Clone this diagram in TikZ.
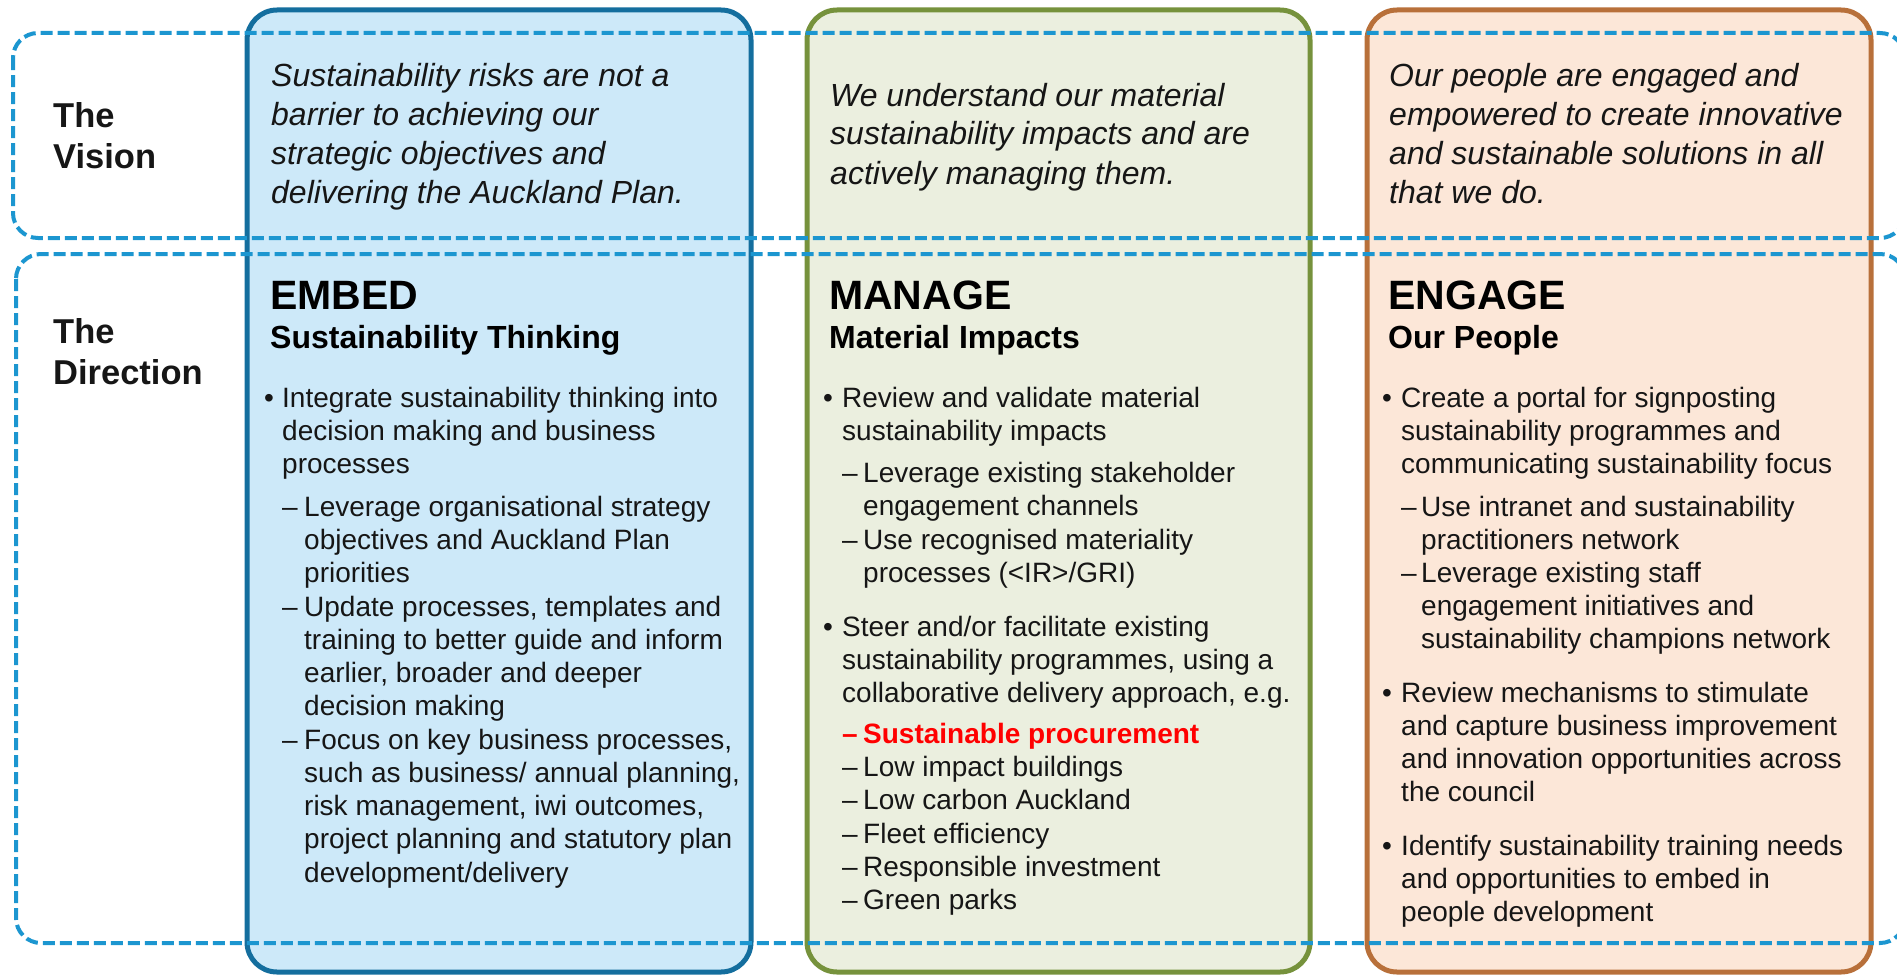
\documentclass[tikz,border=0pt]{standalone}
\usepackage{fontspec}
\setmainfont{Liberation Sans}
\definecolor{bfill}{RGB}{205,233,249}
\definecolor{bborder}{RGB}{20,110,158}
\definecolor{gfill}{RGB}{235,239,223}
\definecolor{gborder}{RGB}{118,146,60}
\definecolor{ofill}{RGB}{252,231,216}
\definecolor{oborder}{RGB}{184,112,58}
\definecolor{dashblue}{RGB}{28,150,208}
\definecolor{txt}{RGB}{22,22,22}
\definecolor{redtxt}{RGB}{255,0,0}
\newcommand{\lns}[1]{\begin{tabular}[t]{@{}l@{}}#1\end{tabular}}
\tikzset{
  colbox/.style={rounded corners=30pt, line width=5pt},
  dashbox/.style={draw=dashblue, line width=4pt, dash pattern=on 12pt off 5pt, rounded corners=25pt},
  body/.style={anchor=base west, inner sep=0pt, text=txt, font=\fontsize{28}{33.3}\selectfont},
  redbody/.style={body, text=redtxt, font=\fontsize{28}{33.3}\selectfont\bfseries},
  vis/.style={anchor=base west, inner sep=0pt, text=txt, font=\fontsize{32}{39}\selectfont\itshape},
  lab/.style={anchor=base west, inner sep=0pt, text=txt, font=\fontsize{34.5}{41}\selectfont\bfseries},
  headbig/.style={anchor=base west, inner sep=0pt, text=black, font=\fontsize{41}{48}\selectfont\bfseries},
  headsub/.style={anchor=base west, inner sep=0pt, text=black, font=\fontsize{32}{38}\selectfont\bfseries}
}
\begin{document}
\begin{tikzpicture}[x=1pt,y=-1pt]
\useasboundingbox (0,0) rectangle (1897,974);
\clip (0,0) rectangle (1897,974);
% column boxes
\draw[colbox, draw=bborder, fill=bfill] (247,10) rectangle (751,972);
\draw[colbox, draw=gborder, fill=gfill] (807,10) rectangle (1310,972);
\draw[colbox, draw=oborder, fill=ofill] (1367,10) rectangle (1871,972);
% dashed row frames
\draw[dashbox] (13,33) rectangle (1905,238);
\draw[dashbox] (16,254) rectangle (1905,943);
% row labels
\node[lab] (visionlab) at (53,127) {\lns{The\\Vision}};
\node[lab] (dirlab) at (53,343) {\lns{The\\Direction}};
% vision texts
\node[vis] (v1) at (271,86) {\lns{Sustainability risks are not a\\barrier to achieving our\\strategic objectives and\\delivering the Auckland Plan.}};
\node[vis] (v2) at (830,106) {\lns{We understand our material\\sustainability impacts and are\\actively managing them.}};
\node[vis] (v3) at (1389,86) {\lns{Our people are engaged and\\empowered to create innovative\\and sustainable solutions in all\\that we do.}};
% headings
\node[headbig] (h1) at (270,309) {EMBED};
\node[headsub] (s1) at (270,348) {Sustainability Thinking};
\node[headbig] (h2) at (829,309) {MANAGE};
\node[headsub] (s2) at (829,348) {Material Impacts};
\node[headbig] (h3) at (1388,309) {ENGAGE};
\node[headsub] (s3) at (1388,348) {Our People};
% column 1 body
\node[body] (c1b1m) at (264,407) {•};
\node[body] (c1b1) at (282,407) {\lns{Integrate sustainability thinking into\\decision making and business\\processes}};
\node[body] (c1d1m) at (282,516) {–};
\node[body] (c1d1) at (304,516) {\lns{Leverage organisational strategy\\objectives and Auckland Plan\\priorities}};
\node[body] (c1d2m) at (282,616) {–};
\node[body] (c1d2) at (304,616) {\lns{Update processes, templates and\\training to better guide and inform\\earlier, broader and deeper\\decision making}};
\node[body] (c1d3m) at (282,749) {–};
\node[body] (c1d3) at (304,749) {\lns{Focus on key business processes,\\such as business/ annual planning,\\risk management, iwi outcomes,\\project planning and statutory plan\\development/delivery}};
% column 2 body
\node[body] (c2b1m) at (823,407) {•};
\node[body] (c2b1) at (842,407) {\lns{Review and validate material\\sustainability impacts}};
\node[body] (c2d1m) at (842,482) {–};
\node[body] (c2d1) at (863,482) {\lns{Leverage existing stakeholder\\engagement channels}};
\node[body] (c2d2m) at (842,549) {–};
\node[body] (c2d2) at (863,549) {\lns{Use recognised materiality\\processes (<IR>/GRI)}};
\node[body] (c2b2m) at (823,636) {•};
\node[body] (c2b2) at (842,636) {\lns{Steer and/or facilitate existing\\sustainability programmes, using a\\collaborative delivery approach, e.g.}};
\node[redbody] (c2d3m) at (842,743) {–};
\node[redbody] (c2d3) at (863,743) {Sustainable procurement};
\node[body] (c2d4m) at (842,776.3) {–};
\node[body] (c2d4) at (863,776.3) {Low impact buildings};
\node[body] (c2d5m) at (842,809.6) {–};
\node[body] (c2d5) at (863,809.6) {Low carbon Auckland};
\node[body] (c2d6m) at (842,843) {–};
\node[body] (c2d6) at (863,843) {Fleet efficiency};
\node[body] (c2d7m) at (842,876.2) {–};
\node[body] (c2d7) at (863,876.2) {Responsible investment};
\node[body] (c2d8m) at (842,909.5) {–};
\node[body] (c2d8) at (863,909.5) {Green parks};
% column 3 body
\node[body] (c3b1m) at (1382,407) {•};
\node[body] (c3b1) at (1401,407) {\lns{Create a portal for signposting\\sustainability programmes and\\communicating sustainability focus}};
\node[body] (c3d1m) at (1401,516) {–};
\node[body] (c3d1) at (1421,516) {\lns{Use intranet and sustainability\\practitioners network}};
\node[body] (c3d2m) at (1401,582) {–};
\node[body] (c3d2) at (1421,582) {\lns{Leverage existing staff\\engagement initiatives and\\sustainability champions network}};
\node[body] (c3b2m) at (1382,702) {•};
\node[body] (c3b2) at (1401,702) {\lns{Review mechanisms to stimulate\\and capture business improvement\\and innovation opportunities across\\the council}};
\node[body] (c3b3m) at (1382,855) {•};
\node[body] (c3b3) at (1401,855) {\lns{Identify sustainability training needs\\and opportunities to embed in\\people development}};
\end{tikzpicture}
\end{document}
